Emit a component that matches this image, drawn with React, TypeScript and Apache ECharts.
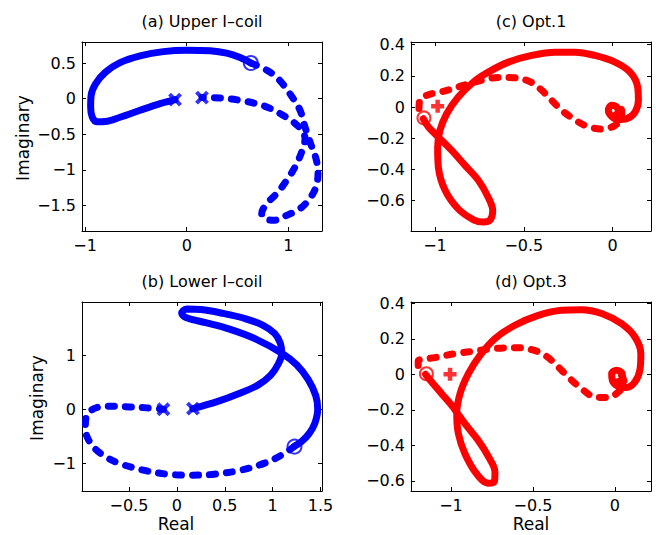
import React, { useEffect, useRef } from "react";
import * as echarts from "echarts";

// ---- data (Real, Imaginary) ----
const aSolid = [[-0.115,-0.014],[-0.262,-0.07],[-0.459,-0.164],[-0.656,-0.262],[-0.8,-0.322],[-0.885,-0.325],[-0.93,-0.257],[-0.945,-0.117],[-0.94,0.047],[-0.895,0.21],[-0.8,0.37],[-0.656,0.505],[-0.459,0.6],[-0.23,0.66],[0,0.68],[0.23,0.672],[0.393,0.638],[0.525,0.576],[0.63,0.5]];
const aDashed = [[0.63,0.5],[0.76,0.42],[0.86,0.33],[0.93,0.23],[1.016,0.066],[1.114,-0.164],[1.163,-0.4],[1.212,-0.61],[1.271,-0.843],[1.291,-1.053],[1.271,-1.24],[1.212,-1.4],[1.114,-1.545],[0.983,-1.64],[0.852,-1.71],[0.77,-1.685],[0.737,-1.615],[0.787,-1.475],[0.885,-1.334],[0.983,-1.147],[1.065,-0.96],[1.13,-0.75],[1.163,-0.562],[1.13,-0.445],[1.048,-0.329],[0.917,-0.21],[0.787,-0.118],[0.655,-0.062],[0.525,-0.024],[0.33,0.01],[0.15,0.014]];
const aCross = [[-0.115,-0.014],[0.15,0.014]];
const aCircle = [[0.63,0.5]];

const bSolid = [[0.168,0.012],[0.42,0.14],[0.65,0.29],[0.85,0.45],[0.98,0.63],[1.06,0.84],[1.095,1.03],[1.08,1.22],[1.02,1.4],[0.9,1.55],[0.72,1.67],[0.48,1.77],[0.25,1.84],[0.1,1.85],[0.05,1.77],[0.1,1.69],[0.3,1.6],[0.55,1.48],[0.82,1.3],[1.1,1.03],[1.25,0.82],[1.37,0.55],[1.45,0.25],[1.47,0],[1.44,-0.26],[1.38,-0.45],[1.3,-0.6],[1.228,-0.683]];
const bDashed = [[1.228,-0.683],[1.09,-0.85],[0.91,-1.0],[0.67,-1.125],[0.39,-1.2],[0.14,-1.218],[-0.1,-1.2],[-0.35,-1.125],[-0.6,-1.0],[-0.77,-0.85],[-0.9,-0.63],[-0.955,-0.36],[-0.947,-0.14],[-0.895,-0.02],[-0.807,0.043],[-0.667,0.055],[-0.491,0.043],[-0.316,0.025],[-0.14,0]];
const bCross = [[-0.14,0],[0.168,0.012]];
const bCircle = [[1.228,-0.69]];

const cSolid = [[-1.066,-0.075],[-1.037,-0.128],[-0.981,-0.192],[-0.906,-0.278],[-0.831,-0.374],[-0.756,-0.47],[-0.7,-0.58],[-0.675,-0.665],[-0.69,-0.725],[-0.728,-0.738],[-0.78,-0.725],[-0.868,-0.655],[-0.943,-0.534],[-0.981,-0.385],[-0.985,-0.256],[-0.972,-0.15],[-0.934,-0.043],[-0.869,0.064],[-0.784,0.16],[-0.7,0.224],[-0.587,0.288],[-0.456,0.331],[-0.324,0.352],[-0.212,0.352],[-0.1,0.331],[0.013,0.288],[0.098,0.224],[0.141,0.128],[0.145,0.043],[0.126,-0.032],[0.079,-0.075],[0.032,-0.081],[-0.006,-0.06],[-0.024,-0.021],[-0.006,0.011],[0.023,0],[0.032,-0.032],[0.013,-0.053]];
const cDashed = [[-1.09,-0.01],[-1.084,0.05],[-1.037,0.079],[-0.943,0.103],[-0.84,0.139],[-0.737,0.171],[-0.643,0.19],[-0.559,0.188],[-0.474,0.167],[-0.409,0.118],[-0.343,0.043],[-0.287,-0.021],[-0.221,-0.075],[-0.155,-0.118],[-0.062,-0.141],[0.013,-0.118],[0.051,-0.064],[0.051,-0.021],[0.023,0]];
const cPlus = [[-0.985,0.005]];
const cCircle = [[-1.062,-0.07],[0,-0.02]];

const dSolid = [[-1.155,0],[-1.118,-0.043],[-1.057,-0.109],[-0.996,-0.175],[-0.915,-0.278],[-0.834,-0.372],[-0.77,-0.466],[-0.732,-0.55],[-0.735,-0.603],[-0.775,-0.613],[-0.844,-0.56],[-0.915,-0.447],[-0.955,-0.334],[-0.965,-0.222],[-0.945,-0.109],[-0.894,0.004],[-0.823,0.107],[-0.732,0.201],[-0.61,0.276],[-0.468,0.332],[-0.325,0.361],[-0.203,0.364],[-0.081,0.342],[0.04,0.285],[0.122,0.21],[0.158,0.116],[0.152,0.023],[0.122,-0.043],[0.071,-0.075],[0.02,-0.068],[-0.016,-0.034],[-0.02,0.004],[0.01,0.023],[0.045,0],[0.04,-0.034],[0,-0.043]];
const dDashed = [[-1.2,0.05],[-1.2,0.075],[-1.098,0.094],[-0.976,0.116],[-0.854,0.131],[-0.732,0.145],[-0.61,0.15],[-0.508,0.139],[-0.427,0.107],[-0.356,0.051],[-0.285,-0.015],[-0.204,-0.081],[-0.122,-0.128],[-0.041,-0.131],[0.02,-0.1],[0.057,-0.053],[0.041,-0.006],[0.004,0.013]];
const dPlus = [[-1.006,0]];
const dCircle = [[-1.15,0.003],[0.01,-0.02]];

// ---- axes ----
const xTicksA = [-1, 0, 1];
const yTicksA = [-1.5, -1, -0.5, 0, 0.5];
const xTicksB = [-0.5, 0, 0.5, 1, 1.5];
const yTicksB = [-1, 0, 1];
const xTicksCD = [-1, -0.5, 0];
const yTicksCD = [-0.6, -0.4, -0.2, 0, 0.2, 0.4];

const titles = ["(a) Upper I\u2013coil", "(c) Opt.1", "(b) Lower I\u2013coil", "(d) Opt.3"];
const yName = "Imaginary";
const xName = "Real";

const FONT = "DejaVu Sans";
const BLUE = "#0000ff";
const RED = "#ff0000";

const grids = [
  { left: 82, top: 42, width: 240, height: 189 },
  { left: 411, top: 42, width: 240, height: 189 },
  { left: 82, top: 302, width: 240, height: 189 },
  { left: 411, top: 302, width: 240, height: 189 },
];

const ranges = [
  { x: [-1.03, 1.33], y: [-1.86, 0.795], xt: xTicksA, yt: yTicksA },
  { x: [-1.135, 0.216], y: [-0.795, 0.417], xt: xTicksCD, yt: yTicksCD },
  { x: [-0.99, 1.515], y: [-1.51, 1.98], xt: xTicksB, yt: yTicksB },
  { x: [-1.244, 0.22], y: [-0.657, 0.407], xt: xTicksCD, yt: yTicksCD },
];

function fmt(v: number) {
  const r = Math.round(v * 1000) / 1000;
  return r < 0 ? "\u2212" + String(-r) : String(r);
}

function makeAxis(gridIndex: number, min: number, max: number, ticks: number[], position: string, labels: boolean) {
  return {
    type: "value",
    gridIndex,
    min,
    max,
    position,
    splitLine: { show: false },
    axisLine: { show: true, onZero: false, lineStyle: { color: "#000", width: 1 } },
    axisTick: { show: true, inside: true, length: 4, customValues: ticks, lineStyle: { color: "#000", width: 1 } },
    axisLabel: {
      show: labels,
      customValues: ticks,
      formatter: fmt,
      color: "#000",
      fontSize: 16,
      fontFamily: FONT,
      margin: 6,
    },
  };
}

const X_SYM = "path://M0,0L10,10M10,0L0,10";
const PLUS_SYM = "path://M5,0L5,10M0,5L10,5";

function lineSeries(data: number[][], gi: number, color: string, dashed: boolean) {
  return {
    type: "line",
    xAxisIndex: 2 * gi,
    yAxisIndex: 2 * gi,
    data,
    smooth: 0.35,
    symbol: "none",
    showSymbol: false,
    silent: true,
    lineStyle: { color, width: 7, type: dashed ? [6, 11] : "solid", cap: "round", join: "round" },
    z: 2,
  };
}

function markSeries(data: number[][], gi: number, symbol: string, size: number, color: string, bw: number) {
  return {
    type: "scatter",
    xAxisIndex: 2 * gi,
    yAxisIndex: 2 * gi,
    data,
    symbol,
    symbolSize: size,
    silent: true,
    itemStyle: { color: "rgba(0,0,0,0)", borderColor: color, borderWidth: bw },
    z: 3,
  };
}

export default function App() {
  const ref = useRef<HTMLDivElement>(null);
  useEffect(() => {
    if (!ref.current) return;
    const chart = echarts.init(ref.current, undefined, { renderer: "svg" });
    const xAxis: any[] = [];
    const yAxis: any[] = [];
    ranges.forEach((r, i) => {
      xAxis.push(makeAxis(i, r.x[0], r.x[1], r.xt, "bottom", true));
      xAxis.push(makeAxis(i, r.x[0], r.x[1], r.xt, "top", false));
      yAxis.push(makeAxis(i, r.y[0], r.y[1], r.yt, "left", true));
      yAxis.push(makeAxis(i, r.y[0], r.y[1], r.yt, "right", false));
    });
    const series = [
      lineSeries(aSolid, 0, BLUE, false),
      lineSeries(aDashed, 0, BLUE, true),
      markSeries(aCross, 0, X_SYM, 11, BLUE, 4),
      markSeries(aCircle, 0, "circle", 14, BLUE, 2),
      lineSeries(cSolid, 1, RED, false),
      lineSeries(cDashed, 1, RED, true),
      markSeries(cPlus, 1, PLUS_SYM, 13, RED, 4.5),
      markSeries(cCircle, 1, "circle", 13, RED, 2),
      lineSeries(bSolid, 2, BLUE, false),
      lineSeries(bDashed, 2, BLUE, true),
      markSeries(bCross, 2, X_SYM, 11, BLUE, 4),
      markSeries(bCircle, 2, "circle", 14, BLUE, 2),
      lineSeries(dSolid, 3, RED, false),
      lineSeries(dDashed, 3, RED, true),
      markSeries(dPlus, 3, PLUS_SYM, 13, RED, 4.5),
      markSeries(dCircle, 3, "circle", 13, RED, 2),
    ];
    const textStyle = (text: string, size: number) => ({
      text,
      fill: "#000",
      fontSize: size,
      fontFamily: FONT,
      align: "center",
      verticalAlign: "middle",
    });
    const graphic = [
      { type: "text", x: 202, y: 21, style: textStyle(titles[0], 16) },
      { type: "text", x: 531, y: 21, style: textStyle(titles[1], 16) },
      { type: "text", x: 202, y: 281, style: textStyle(titles[2], 16) },
      { type: "text", x: 531, y: 281, style: textStyle(titles[3], 16) },
      { type: "text", x: 22.5, y: 138, rotation: Math.PI / 2, style: textStyle(yName, 17) },
      { type: "text", x: 36.5, y: 398, rotation: Math.PI / 2, style: textStyle(yName, 17) },
      { type: "text", x: 176, y: 524, style: textStyle(xName, 17) },
      { type: "text", x: 531, y: 524, style: textStyle(xName, 17) },
    ];
    chart.setOption({
      animation: false,
      backgroundColor: "#fff",
      grid: grids.map((g) => ({ ...g, containLabel: false, outerBoundsMode: "none", show: false })),
      xAxis,
      yAxis,
      series,
      graphic,
    });
    return () => chart.dispose();
  }, []);
  return (
    <div
      ref={ref}
      style={{ position: "fixed", left: 0, top: 0, width: 656, height: 535, background: "#fff" }}
    />
  );
}
